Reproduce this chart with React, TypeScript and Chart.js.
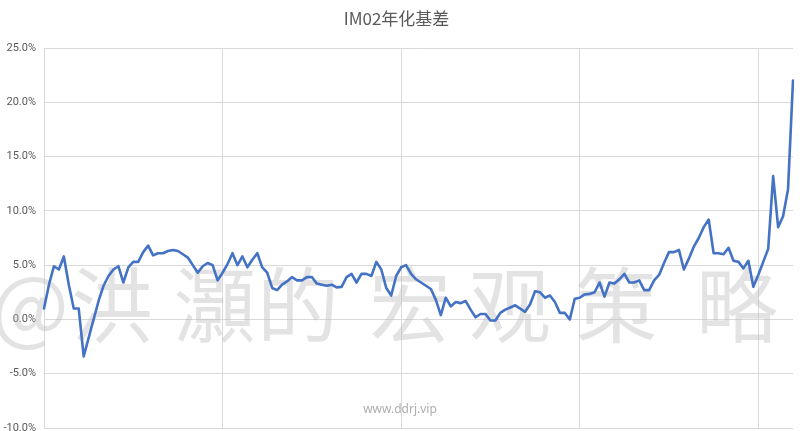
import React, { useEffect, useRef } from "react";
import { Chart, registerables } from "chart.js";

Chart.register(...registerables);

const TITLE = "IM02年化基差";
const WATERMARK = "@洪灝的宏观策略";
const SITE = "www.ddrj.vip";
const Y_MIN = -10;
const Y_MAX = 25;
const Y_STEP = 5;
const GRID_EVERY = 36;

const BASIS: number[] = [
  1.0, 3.2, 4.9, 4.6, 5.8, 3.2, 1.0, 1.0, -3.4, -1.7,
  0.0, 1.7, 3.1, 4.0, 4.6, 4.9, 3.4, 4.8, 5.3, 5.3,
  6.2, 6.8, 5.9, 6.1, 6.1, 6.3, 6.4, 6.3, 6.0, 5.7,
  5.0, 4.3, 4.9, 5.2, 5.0, 3.6, 4.3, 5.1, 6.1, 5.0,
  5.8, 4.8, 5.5, 6.1, 4.8, 4.3, 2.9, 2.7, 3.2, 3.5,
  3.9, 3.6, 3.6, 3.9, 3.9, 3.3, 3.2, 3.1, 3.2, 2.95,
  3.0, 3.9, 4.2, 3.4, 4.2, 4.2, 4.0, 5.3, 4.6, 2.9,
  2.2, 4.0, 4.8, 5.0, 4.2, 3.7, 3.4, 3.1, 2.8, 1.8,
  0.4, 2.0, 1.2, 1.6, 1.5, 1.7, 0.9, 0.2, 0.5, 0.5,
  -0.1, -0.1, 0.6, 0.9, 1.1, 1.3, 1.0, 0.7, 1.4, 2.6,
  2.5, 2.0, 2.2, 1.6, 0.6, 0.6, 0.0, 1.9, 2.0, 2.3,
  2.35, 2.5, 3.4, 2.1, 3.4, 3.3, 3.7, 4.2, 3.4, 3.4,
  3.6, 2.7, 2.7, 3.6, 4.1, 5.2, 6.2, 6.2, 6.4, 4.6,
  5.6, 6.7, 7.5, 8.5, 9.2, 6.1, 6.1, 6.0, 6.6, 5.4,
  5.3, 4.7, 5.4, 3.0, 4.1, 5.3, 6.5, 13.2, 8.5, 9.5,
  12.0, 22.0,
];

const CATEGORIES: string[] = BASIS.map((_, i) => `T${i + 1}`);

const watermarkPlugin = {
  id: "watermark",
  beforeDatasetsDraw(chart: any) {
    const ctx = chart.ctx;
    ctx.save();
    ctx.fillStyle = "rgba(185,185,185,0.4)";
    ctx.font = '82px "Noto Sans CJK SC"';
    ctx.textAlign = "center";
    ctx.textBaseline = "middle";
    const chars = Array.from(WATERMARK);
    const centers = [30, 112, 215, 298, 410, 510, 616, 737];
    chars.forEach((c, i) => ctx.fillText(c, centers[i], 305));
    ctx.font = '12px "Noto Sans"';
    ctx.fillStyle = "rgba(160,160,160,0.85)";
    ctx.fillText(SITE, 400, 410);
    ctx.restore();
  },
};

export default function App() {
  const ref = useRef<HTMLCanvasElement>(null);

  useEffect(() => {
    if (!ref.current) return;
    const chart = new Chart(ref.current, {
      type: "line",
      data: {
        labels: CATEGORIES,
        datasets: [
          {
            label: TITLE,
            data: BASIS,
            borderColor: "#4472C4",
            backgroundColor: "#4472C4",
            borderWidth: 2.6,
            pointRadius: 0,
            pointHoverRadius: 0,
            tension: 0,
            borderJoinStyle: "round",
            borderCapStyle: "round",
          },
        ],
      },
      plugins: [watermarkPlugin],
      options: {
        animation: false,
        responsive: false,
        layout: { padding: { left: 0, right: 7, top: 0, bottom: 0 } },
        plugins: {
          legend: { display: false },
          tooltip: { enabled: false },
          title: {
            display: true,
            text: TITLE,
            color: "#595959",
            font: { family: '"Noto Sans CJK SC"', size: 17, weight: "normal", lineHeight: 1.2 },
            padding: { top: 8, bottom: 19.6 },
          },
        },
        scales: {
          x: {
            type: "category",
            offset: false,
            border: { display: false },
            grid: {
              drawTicks: false,
              color: (ctx: any) => (ctx.index % GRID_EVERY === 0 ? "#d9d9d9" : "rgba(0,0,0,0)"),
              lineWidth: 1,
            },
            ticks: { display: false, autoSkip: false, padding: 0 },
            afterFit: (scale: any) => {
              scale.height = 0;
            },
          },
          y: {
            min: Y_MIN,
            max: Y_MAX,
            border: { display: false },
            grid: { drawTicks: false, color: "#d9d9d9", lineWidth: 1 },
            ticks: {
              stepSize: Y_STEP,
              padding: 8,
              color: "#595959",
              font: { family: "Roboto", size: 11, lineHeight: 0.7 },
              callback: (v: any) => `${Number(v).toFixed(1)}%`,
            },
            afterFit: (scale: any) => {
              scale.width = 44;
              scale.paddingTop = 0;
              scale.paddingBottom = 3;
            },
          },
        },
      },
    });
    return () => chart.destroy();
  }, []);

  return (
    <div style={{ position: "fixed", left: 0, top: 0, width: 800, height: 431, background: "#fff" }}>
      <canvas ref={ref} width={800} height={431} />
    </div>
  );
}
